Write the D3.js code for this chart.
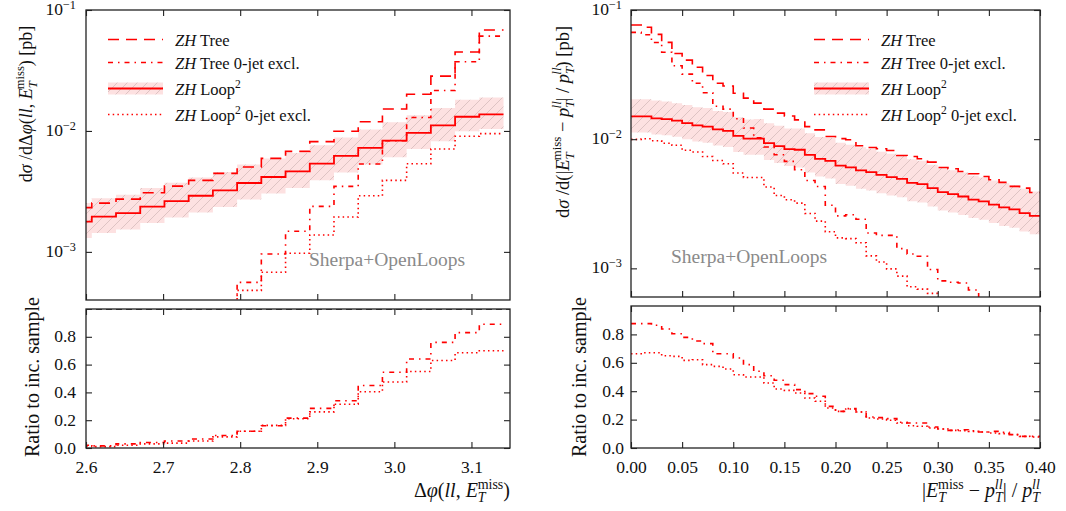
<!DOCTYPE html>
<html><head><meta charset="utf-8">
<script src="https://cdn.jsdelivr.net/npm/d3@7"></script>
<style>
body{margin:0;background:#fff}
svg{display:block}
</style></head>
<body><svg id="c" width="1066" height="511" font-family="Liberation Serif, DejaVu Serif, serif"></svg>
<script>
// ---------------- DATA ----------------
// Left panel: Δφ(ll, ETmiss) bins
const dphiEdges = [2.57611, 2.60752, 2.63894, 2.67035, 2.70177, 2.73319, 2.76460, 2.79602, 2.82743, 2.85885, 2.89027, 2.92168, 2.95310, 2.98451, 3.01593, 3.04735, 3.07876, 3.11018, 3.14159];
const dphiTree   = [0.00232, 0.00253, 0.00273, 0.00308, 0.00350, 0.00390, 0.00446, 0.00503, 0.00593, 0.00678, 0.00816, 0.00993, 0.0119, 0.0152, 0.0201, 0.0284, 0.0449, 0.0683];
const dphiTree0  = [0.000046, 0.000038, 0.000082, 0.00012, 0.000175, 0.00025, 0.00035, 0.00056, 0.00096, 0.00148, 0.00238, 0.00348, 0.00533, 0.0083, 0.0129, 0.0216, 0.0373, 0.0608];
const dphiLoop   = [0.00178, 0.00196, 0.00209, 0.00237, 0.00263, 0.00291, 0.00322, 0.00371, 0.00416, 0.00463, 0.00536, 0.00621, 0.00723, 0.00831, 0.00962, 0.0111, 0.0131, 0.0137];
const dphiLoopLo = [0.00130, 0.00143, 0.00153, 0.00173, 0.00192, 0.00212, 0.00235, 0.00271, 0.00304, 0.00338, 0.00391, 0.00453, 0.00528, 0.00607, 0.0071, 0.0082, 0.00996, 0.0104];
const dphiLoopHi = [0.00253, 0.00278, 0.00297, 0.00337, 0.00373, 0.00413, 0.00457, 0.00527, 0.00591, 0.00657, 0.00761, 0.00882, 0.0103, 0.0118, 0.0135, 0.0155, 0.0181, 0.0189];
const dphiLoop0  = [0.000027, 0.00002, 0.000042, 0.000071, 0.000092, 0.000146, 0.00026, 0.00048, 0.000678, 0.000975, 0.00138, 0.00194, 0.00291, 0.0039, 0.00536, 0.0071, 0.00903, 0.00951];
const dphiRatioTree0 = [0.02, 0.015, 0.03, 0.04, 0.05, 0.065, 0.09, 0.12, 0.16, 0.215, 0.285, 0.34, 0.45, 0.545, 0.64, 0.76, 0.83, 0.89];
const dphiRatioLoop0 = [0.015, 0.01, 0.02, 0.03, 0.035, 0.05, 0.08, 0.12, 0.163, 0.21, 0.26, 0.315, 0.405, 0.475, 0.55, 0.63, 0.685, 0.70];
const dphiTicks = [2.6, 2.7, 2.8, 2.9, 3.0, 3.1];
const dphiTickLabels = ["2.6", "2.7", "2.8", "2.9", "3.0", "3.1"];

// Right panel: |ETmiss - pTll| / pTll bins
const relEdges = [0, 0.01, 0.02, 0.03, 0.04, 0.05, 0.06, 0.07, 0.08, 0.09, 0.10, 0.11, 0.12, 0.13, 0.14, 0.15, 0.16, 0.17, 0.18, 0.19, 0.20, 0.21, 0.22, 0.23, 0.24, 0.25, 0.26, 0.27, 0.28, 0.29, 0.30, 0.31, 0.32, 0.33, 0.34, 0.35, 0.36, 0.37, 0.38, 0.39, 0.40];
const relTree   = [0.0766, 0.0735, 0.0648, 0.0562, 0.0460, 0.0409, 0.0360, 0.0311, 0.0271, 0.0258, 0.0227, 0.0208, 0.0190, 0.0171, 0.0159, 0.0151, 0.0141, 0.0125, 0.0118, 0.0105, 0.0101, 0.0099, 0.0089, 0.00863, 0.00842, 0.00817, 0.00748, 0.00735, 0.00705, 0.00664, 0.00604, 0.00590, 0.00562, 0.00540, 0.00514, 0.00485, 0.00463, 0.00431, 0.00418, 0.00387];
const relTree0  = [0.0671, 0.0644, 0.0560, 0.0471, 0.0370, 0.0319, 0.0271, 0.0229, 0.0180, 0.0171, 0.0144, 0.0122, 0.01026, 0.0087, 0.00758, 0.00673, 0.0058, 0.00479, 0.0043, 0.00308, 0.00255, 0.0026, 0.0024, 0.00188, 0.0018, 0.0018, 0.00142, 0.00129, 0.00124, 0.00098, 0.00080, 0.00078, 0.00077, 0.00068, 0.00058, 0.00056, 0.00051, 0.00041, 0.00034, 0.00032];
const relLoop   = [0.0150, 0.0150, 0.0145, 0.0143, 0.0139, 0.0133, 0.0128, 0.0125, 0.0119, 0.0116, 0.0106, 0.0101, 0.0101, 0.00931, 0.00883, 0.00837, 0.00828, 0.00757, 0.00705, 0.00680, 0.00625, 0.00604, 0.00573, 0.00556, 0.00530, 0.00508, 0.00493, 0.00459, 0.00449, 0.00418, 0.00389, 0.00376, 0.00360, 0.00340, 0.00330, 0.00311, 0.00296, 0.00286, 0.00268, 0.00255];
const relLoopHi = [0.0204, 0.0204, 0.0199, 0.0196, 0.0190, 0.0184, 0.0177, 0.0174, 0.0165, 0.0162, 0.0148, 0.0142, 0.0143, 0.0133, 0.0127, 0.0121, 0.0121, 0.0111, 0.0104, 0.0102, 0.00938, 0.00906, 0.00865, 0.00840, 0.00800, 0.00772, 0.00749, 0.00698, 0.00682, 0.00635, 0.00595, 0.00575, 0.00551, 0.00520, 0.00505, 0.00479, 0.00456, 0.00440, 0.00413, 0.00393];
const relLoopLo = [0.01125, 0.01125, 0.01088, 0.01073, 0.01043, 0.00998, 0.00960, 0.00938, 0.00893, 0.00870, 0.00795, 0.00758, 0.00758, 0.00689, 0.00653, 0.00619, 0.00604, 0.00553, 0.00515, 0.00496, 0.00450, 0.00435, 0.00413, 0.00400, 0.00382, 0.00366, 0.00355, 0.00330, 0.00323, 0.00301, 0.00280, 0.00271, 0.00259, 0.00245, 0.00238, 0.00224, 0.00213, 0.00206, 0.00193, 0.00184];
const relLoop0  = [0.00996, 0.01007, 0.00973, 0.0093, 0.00897, 0.00821, 0.00796, 0.00734, 0.00684, 0.00645, 0.00547, 0.00505, 0.00505, 0.00426, 0.00366, 0.0034, 0.0032, 0.00266, 0.00232, 0.00192, 0.00172, 0.0017, 0.00158, 0.00125, 0.00112, 0.00099, 0.00087, 0.00072, 0.00069, 0.00064, 0.00052, 0.00047, 0.00044, 0.0004, 0.00037, 0.00033, 0.0003, 0.00027, 0.00022, 0.0002];
const relRatioTree0 = [0.876, 0.876, 0.864, 0.838, 0.805, 0.779, 0.754, 0.735, 0.664, 0.664, 0.634, 0.587, 0.540, 0.509, 0.477, 0.446, 0.411, 0.383, 0.364, 0.293, 0.258, 0.277, 0.254, 0.218, 0.214, 0.207, 0.181, 0.176, 0.176, 0.148, 0.134, 0.124, 0.129, 0.122, 0.113, 0.117, 0.110, 0.094, 0.082, 0.082];
const relRatioLoop0 = [0.664, 0.671, 0.671, 0.650, 0.645, 0.617, 0.622, 0.587, 0.575, 0.556, 0.516, 0.500, 0.500, 0.458, 0.415, 0.406, 0.387, 0.352, 0.329, 0.282, 0.258, 0.275, 0.254, 0.211, 0.204, 0.195, 0.176, 0.157, 0.153, 0.141, 0.134, 0.124, 0.122, 0.117, 0.113, 0.106, 0.101, 0.094, 0.082, 0.077];
const relTicks = [0, 0.05, 0.10, 0.15, 0.20, 0.25, 0.30, 0.35, 0.40];
const relTickLabels = ["0.00", "0.05", "0.10", "0.15", "0.20", "0.25", "0.30", "0.35", "0.40"];

// shared tick labels
const logTicks = [0.1, 0.01, 0.001];
const logTickExps = ["\u22121", "\u22122", "\u22123"];
const ratioTicks = [0, 0.2, 0.4, 0.6, 0.8];
const ratioTickLabels = ["0.0", "0.2", "0.4", "0.6", "0.8"];
const legendLabels = [
  [["ZH", true], [" Tree", false]],
  [["ZH", true], [" Tree 0-jet excl.", false]],
  [["ZH", true], [" Loop", false], ["2", false, "sup"]],
  [["ZH", true], [" Loop", false], ["2", false, "sup"], [" 0-jet excl.", false]]
];
const watermark = "Sherpa+OpenLoops";
const ratioLabel = "Ratio to inc. sample";

// ---------------- DRAWING ----------------
const FONT = "'Liberation Serif', 'DejaVu Serif', serif";
const RED = "#ff0000";
const STY = {
  tree:  {dash: "11,7"},
  tree0: {dash: "5,5,1.5,5"},
  loop:  {dash: null},
  loop0: {dash: "1.5,3.2"}
};
const svg = d3.select("#c");
const defs = svg.append("defs");
const pat = defs.append("pattern").attr("id", "hatch").attr("patternUnits", "userSpaceOnUse")
  .attr("width", 10).attr("height", 10);
pat.append("rect").attr("width", 10).attr("height", 10).attr("fill", "#fde1e1");
pat.append("path").attr("d", "M0,10 L10,0 M-2.5,2.5 L2.5,-2.5 M7.5,12.5 L12.5,7.5")
  .attr("stroke", "#c9afaf").attr("stroke-width", 0.6);

function rich(t, segs, size, supRaise) {
  const raise = supRaise || 0.42;
  let cur = 0;
  segs.forEach(s => {
    const [txt, it, kind, dx] = s;
    let target = 0, fs = size;
    if (kind === "sup") { target = -raise * size; fs = size * 0.7; }
    if (kind === "sub") { target = 0.25 * size; fs = size * 0.7; }
    const ts = t.append("tspan").text(txt).attr("font-size", fs)
      .attr("font-style", it ? "italic" : "normal").attr("dy", target - cur);
    if (dx) ts.attr("dx", dx);
    cur = target;
  });
}

function stepPts(edges, vals) {
  const p = vals.map((v, i) => [edges[i], v]);
  p.push([edges[vals.length], vals[vals.length - 1]]);
  return p;
}

function panel(cfg, k) {
  const x = d3.scaleLinear().domain(cfg.xdom).range([cfg.x0, cfg.x1]);
  const yT = d3.scaleLog().domain(cfg.ydom).range([cfg.top[1], cfg.top[0]]);
  const yR = d3.scaleLinear().domain([0, 1]).range([cfg.bot[1], cfg.bot[0]]);

  const cpT = "cpT" + k, cpR = "cpR" + k;
  defs.append("clipPath").attr("id", cpT).append("rect")
    .attr("x", cfg.x0).attr("y", cfg.top[0]).attr("width", cfg.x1 - cfg.x0).attr("height", cfg.top[1] - cfg.top[0]);
  defs.append("clipPath").attr("id", cpR).append("rect")
    .attr("x", cfg.x0).attr("y", cfg.bot[0]).attr("width", cfg.x1 - cfg.x0).attr("height", cfg.bot[1] - cfg.bot[0]);

  // --- top panel
  const gT = svg.append("g").attr("clip-path", `url(#${cpT})`);
  const area = d3.area().curve(d3.curveStepAfter).x(d => x(d[0])).y0(d => yT(d[1])).y1(d => yT(d[2]));
  const bandPts = cfg.lo.map((v, i) => [cfg.edges[i], v, cfg.hi[i]]);
  bandPts.push([cfg.edges[cfg.lo.length], cfg.lo[cfg.lo.length - 1], cfg.hi[cfg.hi.length - 1]]);
  gT.append("path").attr("d", area(bandPts)).attr("fill", "url(#hatch)");

  const lineT = d3.line().curve(d3.curveStepAfter).x(d => x(d[0])).y(d => yT(Math.max(d[1], 1e-8)));
  const series = [["tree", cfg.tree], ["tree0", cfg.tree0], ["loop", cfg.loop], ["loop0", cfg.loop0]];
  series.forEach(([key, vals]) => {
    gT.append("path").attr("d", lineT(stepPts(cfg.edges, vals))).attr("fill", "none")
      .attr("stroke", RED).attr("stroke-width", key === "loop" ? 1.8 : 1.6)
      .attr("stroke-dasharray", STY[key].dash);
  });

  svg.append("text").attr("x", cfg.wm[0]).attr("y", cfg.wm[1]).attr("font-size", 19.5)
    .attr("fill", "#8a8a8a").text(watermark);

  // --- ratio panel
  const gR = svg.append("g").attr("clip-path", `url(#${cpR})`);
  const lineR = d3.line().curve(d3.curveStepAfter).x(d => x(d[0])).y(d => yR(d[1]));
  if (cfg.unity) {
    gR.append("line").attr("x1", cfg.x0).attr("x2", cfg.x1).attr("y1", yR(1)).attr("y2", yR(1))
      .attr("stroke", "#000").attr("stroke-width", 1.6).attr("stroke-dasharray", "6,4");
  }
  [["tree0", cfg.rTree0], ["loop0", cfg.rLoop0]].forEach(([key, vals]) => {
    gR.append("path").attr("d", lineR(stepPts(cfg.edges, vals))).attr("fill", "none")
      .attr("stroke", RED).attr("stroke-width", 1.6).attr("stroke-dasharray", STY[key].dash);
  });

  // --- frames
  [[cfg.top[0], cfg.top[1]], [cfg.bot[0], cfg.bot[1]]].forEach(([a, b]) => {
    svg.append("rect").attr("x", cfg.x0).attr("y", a).attr("width", cfg.x1 - cfg.x0).attr("height", b - a)
      .attr("fill", "none").attr("stroke", "#222").attr("stroke-width", 1.3);
  });

  // --- axes (inward ticks)
  function styleAxis(g) { g.select(".domain").remove(); g.selectAll(".tick line").attr("stroke", "#222").attr("stroke-width", 1.1); }
  const blank = () => "";
  svg.append("g").attr("transform", `translate(0,${cfg.top[1]})`)
    .call(d3.axisBottom(x).tickValues(cfg.ticks).tickSize(-6).tickFormat(blank)).call(styleAxis);
  svg.append("g").attr("transform", `translate(0,${cfg.top[0]})`)
    .call(d3.axisTop(x).tickValues(cfg.ticks).tickSize(-6).tickFormat(blank)).call(styleAxis);
  svg.append("g").attr("transform", `translate(0,${cfg.bot[0]})`)
    .call(d3.axisTop(x).tickValues(cfg.ticks).tickSize(-6).tickFormat(blank)).call(styleAxis);
  const gxb = svg.append("g").attr("transform", `translate(0,${cfg.bot[1]})`)
    .call(d3.axisBottom(x).tickValues(cfg.ticks).tickSize(-6).tickPadding(12.5)
      .tickFormat((d, i) => cfg.tickLabels[i])).call(styleAxis);
  gxb.attr("font-family", FONT).attr("font-size", 17.5);
  gxb.selectAll(".tick text").attr("fill", "#111");

  svg.append("g").attr("transform", `translate(${cfg.x0},0)`)
    .call(d3.axisLeft(yT).tickValues(logTicks).tickSize(-6).tickFormat(blank)).call(styleAxis);
  svg.append("g").attr("transform", `translate(${cfg.x1},0)`)
    .call(d3.axisRight(yT).tickValues(logTicks).tickSize(-6).tickFormat(blank)).call(styleAxis);
  svg.append("g").attr("transform", `translate(${cfg.x0},0)`)
    .call(d3.axisLeft(yR).tickValues(ratioTicks).tickSize(-6).tickFormat(blank)).call(styleAxis);
  svg.append("g").attr("transform", `translate(${cfg.x1},0)`)
    .call(d3.axisRight(yR).tickValues(ratioTicks).tickSize(-6).tickFormat(blank)).call(styleAxis);

  logTicks.forEach((v, i) => {
    const t = svg.append("text").attr("x", cfg.x0 - cfg.lpad).attr("y", yT(v) + 5).attr("text-anchor", "end");
    rich(t, [["10", false], [logTickExps[i], false, "sup"]], 17.5, 0.34);
  });
  ratioTicks.forEach((v, i) => {
    svg.append("text").attr("x", cfg.x0 - cfg.rpad).attr("y", yR(v) + 5.5).attr("text-anchor", "end")
      .attr("font-size", 17.5).text(ratioTickLabels[i]);
  });

  const yl = svg.append("text").attr("text-anchor", "middle")
    .attr("transform", `translate(${cfg.ylab[0]},${cfg.ylab[1]}) rotate(-90)`);
  rich(yl, cfg.ylabSegs, cfg.ylabSize);
  svg.append("text").attr("text-anchor", "middle").attr("font-size", 20)
    .attr("transform", `translate(${cfg.rlab[0]},${cfg.rlab[1]}) rotate(-90)`).text(ratioLabel);
  const xl = svg.append("text").attr("text-anchor", "end").attr("x", cfg.x1).attr("y", 497);
  rich(xl, cfg.xlabSegs, 20);

  const rows = [["tree", 39.5], ["tree0", 62.5], ["loop", 88.5], ["loop0", 114.5]];
  rows.forEach(([key, yy], i) => {
    if (key === "loop") {
      svg.append("rect").attr("x", cfg.leg).attr("y", yy - 6).attr("width", 55).attr("height", 12).attr("fill", "url(#hatch)");
    }
    svg.append("line").attr("x1", cfg.leg).attr("x2", cfg.leg + 55).attr("y1", yy).attr("y2", yy)
      .attr("stroke", RED).attr("stroke-width", key === "loop" ? 1.8 : 1.6).attr("stroke-dasharray", STY[key].dash);
    const t = svg.append("text").attr("x", cfg.leg + 67).attr("y", yy + 6);
    rich(t, legendLabels[i], 16.5);
  });
}

const ET = [["E", true], ["T", true, "sub"], ["miss", false, "sup", -8]];
const PT = [["p", true], ["T", true, "sub"], ["ll", true, "sup", -8]];

panel({
  x0: 86, x1: 510, top: [10, 300], bot: [309, 448], xdom: [2.6, 3.15], ydom: [4e-4, 0.1],
  edges: dphiEdges, tree: dphiTree, tree0: dphiTree0, loop: dphiLoop, lo: dphiLoopLo, hi: dphiLoopHi, loop0: dphiLoop0,
  rTree0: dphiRatioTree0, rLoop0: dphiRatioLoop0, ticks: dphiTicks, tickLabels: dphiTickLabels,
  wm: [309, 266], lpad: 10, rpad: 10, unity: true, leg: 108,
  ylab: [32, 104], rlab: [39, 377], ylabSize: 18,
  ylabSegs: [["d", false], ["\u03c3", true], [" /d\u0394", false], ["\u03c6", true], ["(", false], ["ll", true], [", ", false]]
    .concat(ET).concat([[") [pb]", false]]),
  xlabSegs: [["\u0394", false], ["\u03c6", true], ["(", false], ["ll", true], [", ", false]].concat(ET).concat([[")", false]])
}, 0);

panel({
  x0: 631, x1: 1040, top: [10, 297], bot: [306, 448], xdom: [0, 0.4], ydom: [6e-4, 0.1],
  edges: relEdges, tree: relTree, tree0: relTree0, loop: relLoop, lo: relLoopLo, hi: relLoopHi, loop0: relLoop0,
  rTree0: relRatioTree0, rLoop0: relRatioLoop0, ticks: relTicks, tickLabels: relTickLabels,
  wm: [671, 263], lpad: 9, rpad: 7, unity: false, leg: 814,
  ylab: [569, 122], rlab: [586, 377], ylabSize: 18.5,
  ylabSegs: [["d", false], ["\u03c3", true], [" /d(|", false]].concat(ET).concat([[" \u2212 ", false]]).concat(PT)
    .concat([["| / ", false]]).concat(PT).concat([[") [pb]", false]]),
  xlabSegs: [["|", false]].concat(ET).concat([[" \u2212 ", false]]).concat(PT).concat([["| / ", false]]).concat(PT)
}, 1);

svg.selectAll("text").style("font-family", FONT).each(function () {
  if (!this.getAttribute("fill")) this.setAttribute("fill", "#111");
});
</script>
</body></html>
